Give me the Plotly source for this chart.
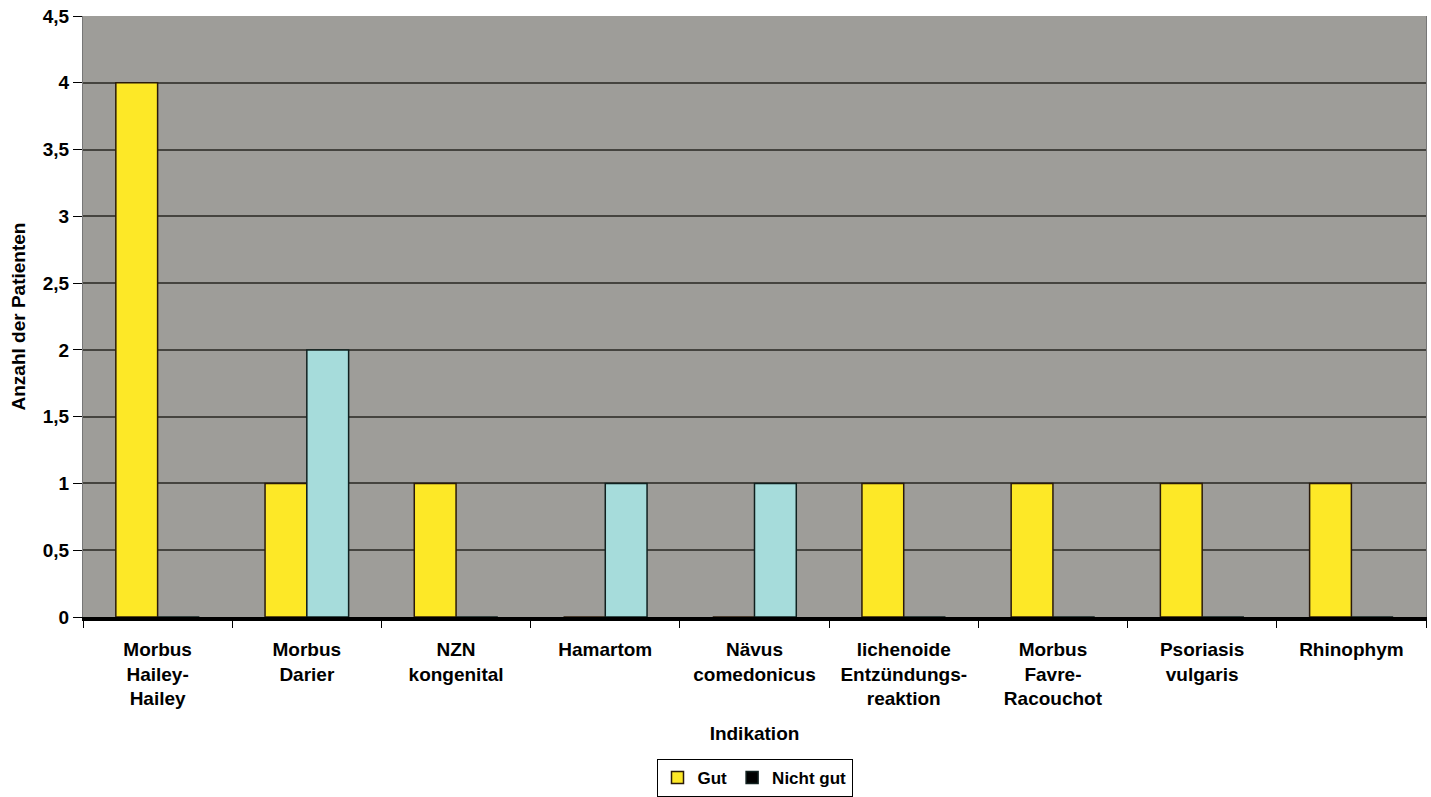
import plotly.graph_objects as go

categories = [
    "Morbus<br>Hailey-<br>Hailey",
    "Morbus<br>Darier",
    "NZN<br>kongenital",
    "Hamartom",
    "Nävus<br>comedonicus",
    "lichenoide<br>Entzündungs-<br>reaktion",
    "Morbus<br>Favre-<br>Racouchot",
    "Psoriasis<br>vulgaris",
    "Rhinophym",
]
gut = [4, 1, 1, 0, 0, 1, 1, 1, 1]
nicht_gut = [0, 2, 0, 1, 1, 0, 0, 0, 0]
y_ticks = [0, 0.5, 1, 1.5, 2, 2.5, 3, 3.5, 4, 4.5]
y_tick_labels = ["0", "0,5", "1", "1,5", "2", "2,5", "3", "3,5", "4", "4,5"]

YELLOW = "#fde827"
CYAN = "#a6dcdb"
nicht_colors = [CYAN if v > 0 else "#000000" for v in nicht_gut]

fig = go.Figure()
fig.add_trace(go.Bar(
    x=categories, y=gut, name="Gut",
    marker=dict(color=YELLOW, line=dict(color="#2a1a0a", width=1.5)),
))
fig.add_trace(go.Bar(
    x=categories, y=nicht_gut, name="Nicht gut",
    marker=dict(color=nicht_colors, line=dict(color="#10201f", width=1.5)),
))

FONT = "Liberation Sans, Arial, sans-serif"
fig.update_layout(
    width=1431, height=797,
    margin=dict(l=83, r=5, t=16, b=180, autoexpand=False),
    paper_bgcolor="white",
    plot_bgcolor="#9e9d99",
    font=dict(family=FONT, size=19, color="black", weight="bold"),
    barmode="group",
    bargap=0.44,
    bargroupgap=0,
    showlegend=True,
    legend=dict(
        orientation="h", x=0.5, xanchor="center", y=-0.236, yanchor="top",
        bordercolor="black", borderwidth=1, bgcolor="white",
        font=dict(size=17, family=FONT, weight="bold"),
        itemwidth=30, tracegroupgap=0,
    ),
    xaxis=dict(
        title=dict(text="Indikation", font=dict(size=19, family=FONT, weight="bold"), standoff=19),
        tickfont=dict(size=19, family=FONT, weight="bold"),
        ticks="outside", tickson="boundaries", ticklen=7, tickcolor="black",
        ticklabelstandoff=12,
        showline=True, linecolor="black", linewidth=4, layer="below traces",
        showgrid=False,
    ),
    yaxis=dict(
        title=dict(text="Anzahl der Patienten", font=dict(size=19, family=FONT, weight="bold"), standoff=12),
        tickfont=dict(size=19, family=FONT, weight="bold"),
        range=[0, 4.5], tickvals=y_ticks, ticktext=y_tick_labels,
        ticks="outside", ticklen=9, tickcolor="black",
        showgrid=True, gridcolor="#45443f", gridwidth=1.5,
        zeroline=False,
        showline=True, linecolor="#777", linewidth=1, mirror=True,
    ),
)

fig.write_html("out.html")
